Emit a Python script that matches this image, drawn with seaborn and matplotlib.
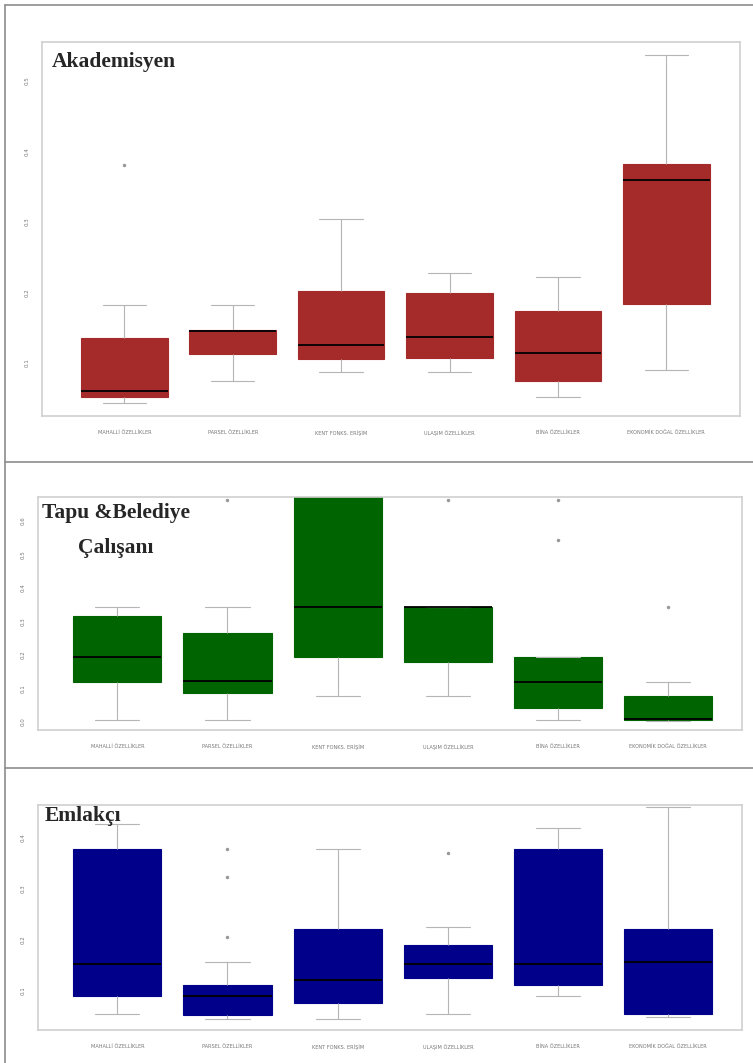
import numpy as np
import pandas as pd
import matplotlib.pyplot as plt
import seaborn as sns
from matplotlib.lines import Line2D

# Kategoriler (x ekseni)
kategoriler = ['MAHALLİ ÖZELLİKLER', 'PARSEL ÖZELLİKLER', 'KENT FONKS. ERİŞİM',
               'ULAŞIM ÖZELLİKLER', 'BİNA ÖZELLİKLER', 'EKONOMİK DOĞAL ÖZELLİKLER']

# Akademisyen - kutu istatistikleri
ak_alt = [0.043, 0.074, 0.087, 0.087, 0.052, 0.090]
ak_q1 = [0.052, 0.113, 0.106, 0.107, 0.074, 0.184]
ak_med = [0.060, 0.146, 0.125, 0.137, 0.114, 0.360]
ak_q3 = [0.135, 0.147, 0.202, 0.199, 0.174, 0.382]
ak_ust = [0.182, 0.182, 0.304, 0.228, 0.222, 0.537]
ak_aykiri = [[0.381], [], [], [], [], []]

# Tapu & Belediye Çalışanı
tb_alt = [0.006, 0.006, 0.078, 0.078, 0.006, 0.003]
tb_q1 = [0.119, 0.087, 0.194, 0.179, 0.042, 0.006]
tb_med = [0.194, 0.122, 0.343, 0.342, 0.119, 0.010]
tb_q3 = [0.316, 0.266, 0.750, 0.343, 0.194, 0.078]
tb_ust = [0.343, 0.343, 0.800, 0.343, 0.194, 0.119]
tb_aykiri = [[], [0.663], [], [0.663], [0.543, 0.663], [0.343]]

# Emlakçı
em_alt = [0.053, 0.043, 0.043, 0.053, 0.088, 0.047]
em_q1 = [0.088, 0.051, 0.075, 0.124, 0.110, 0.053]
em_med = [0.151, 0.088, 0.120, 0.151, 0.151, 0.155]
em_q3 = [0.378, 0.110, 0.220, 0.190, 0.378, 0.220]
em_ust = [0.427, 0.155, 0.378, 0.225, 0.420, 0.461]
em_aykiri = [[], [0.205, 0.324, 0.378], [], [0.371], [], []]

y_tik = [[0.1, 0.2, 0.3, 0.4, 0.5],
         [0.0, 0.1, 0.2, 0.3, 0.4, 0.5, 0.6],
         [0.1, 0.2, 0.3, 0.4]]
y_tik_etiket = [['0.1', '0.2', '0.3', '0.4', '0.5'],
                ['0.0', '0.1', '0.2', '0.3', '0.4', '0.5', '0.6'],
                ['0.1', '0.2', '0.3', '0.4']]


def ornekle(alt, q1, med, q3, ust, aykiri, m=5):
    # bes sayi ozetini veren bir orneklem (n = 4m+1)
    v = [alt] + [q1] * m
    v += [med] * m
    v += [q3] * m
    ustler = [ust] + list(aykiri)
    v += [q3] * (m - len(ustler)) + ustler
    return v


def tablo(alt, q1, med, q3, ust, aykiri):
    satirlar = []
    for i, k in enumerate(kategoriler):
        for d in ornekle(alt[i], q1[i], med[i], q3[i], ust[i], aykiri[i]):
            satirlar.append((k, d))
    return pd.DataFrame(satirlar, columns=['grup', 'deger'])


sns.set_style('white')
plt.rcParams['font.family'] = ['DejaVu Sans']

fig = plt.figure(figsize=(7.53, 10.63), dpi=100)

# baslik, veri, renk, eksen konumu, ylim, xlim, baslik konumu (piksel)
paneller = [
    ('Akademisyen', tablo(ak_alt, ak_q1, ak_med, ak_q3, ak_ust, ak_aykiri), '#a52a2a',
     [42 / 753, 1 - 416 / 1063, 698 / 753, 374 / 1063], (0.0248, 0.555), (-0.76, 5.68),
     (52, 52)),
    ('Tapu &Belediye\nÇalışanı', tablo(tb_alt, tb_q1, tb_med, tb_q3, tb_ust, tb_aykiri), '#006400',
     [38 / 753, 1 - 730 / 1063, 704 / 753, 233 / 1063], (-0.024, 0.672), (-0.72, 5.67),
     (42, 503)),
    ('Emlakçı', tablo(em_alt, em_q1, em_med, em_q3, em_ust, em_aykiri), '#00008b',
     [38 / 753, 1 - 1030 / 1063, 704 / 753, 225 / 1063], (0.0216, 0.465), (-0.72, 5.67),
     (45, 806)),
]

for j, (baslik, df, renk, konum, ylim, xlim, bkonum) in enumerate(paneller):
    ax = fig.add_axes(konum)
    sns.boxplot(data=df, x='grup', y='deger', order=kategoriler, color=renk,
                saturation=1, width=0.8, linecolor='#b5b5b5', linewidth=0.8,
                boxprops=dict(edgecolor=renk),
                medianprops=dict(color='black', linewidth=1.3),
                flierprops=dict(marker='o', markersize=1.5, markerfacecolor='#999999',
                                markeredgecolor='#999999'),
                ax=ax)
    ax.set_ylim(*ylim)
    ax.set_xlim(*xlim)
    ax.set_xlabel('')
    ax.set_ylabel('')
    ax.set_yticks(y_tik[j])
    ax.set_yticklabels(y_tik_etiket[j], rotation=90, va='center', fontsize=4, color='#777777')
    ax.set_xticks(range(len(kategoriler)))
    ax.set_xticklabels(kategoriler, fontsize=3.6, color='#777777')
    ax.tick_params(axis='both', length=3, width=0.5, color='#999999', pad=6)
    ax.tick_params(axis='x', length=0, pad=10)
    for s in ax.spines.values():
        s.set_color('#cfcfcf')
        s.set_linewidth(1.2)
    fig.text(bkonum[0] / 753, 1 - bkonum[1] / 1063, baslik, ha='left', va='top',
             multialignment='center', fontsize=15.5, fontweight='bold',
             family='Liberation Serif', linespacing=2.0)

# dis cerceve ve ayirici cizgiler
for (x0, y0, x1, y1) in [(5, 5, 753, 5), (5, 5, 5, 1063),
                         (5, 462, 753, 462), (5, 768, 753, 768)]:
    fig.add_artist(Line2D([x0 / 753, x1 / 753], [1 - y0 / 1063, 1 - y1 / 1063],
                          color='#8c8c8c', linewidth=1.2))

fig.savefig('out.png', dpi=100, facecolor='white')
